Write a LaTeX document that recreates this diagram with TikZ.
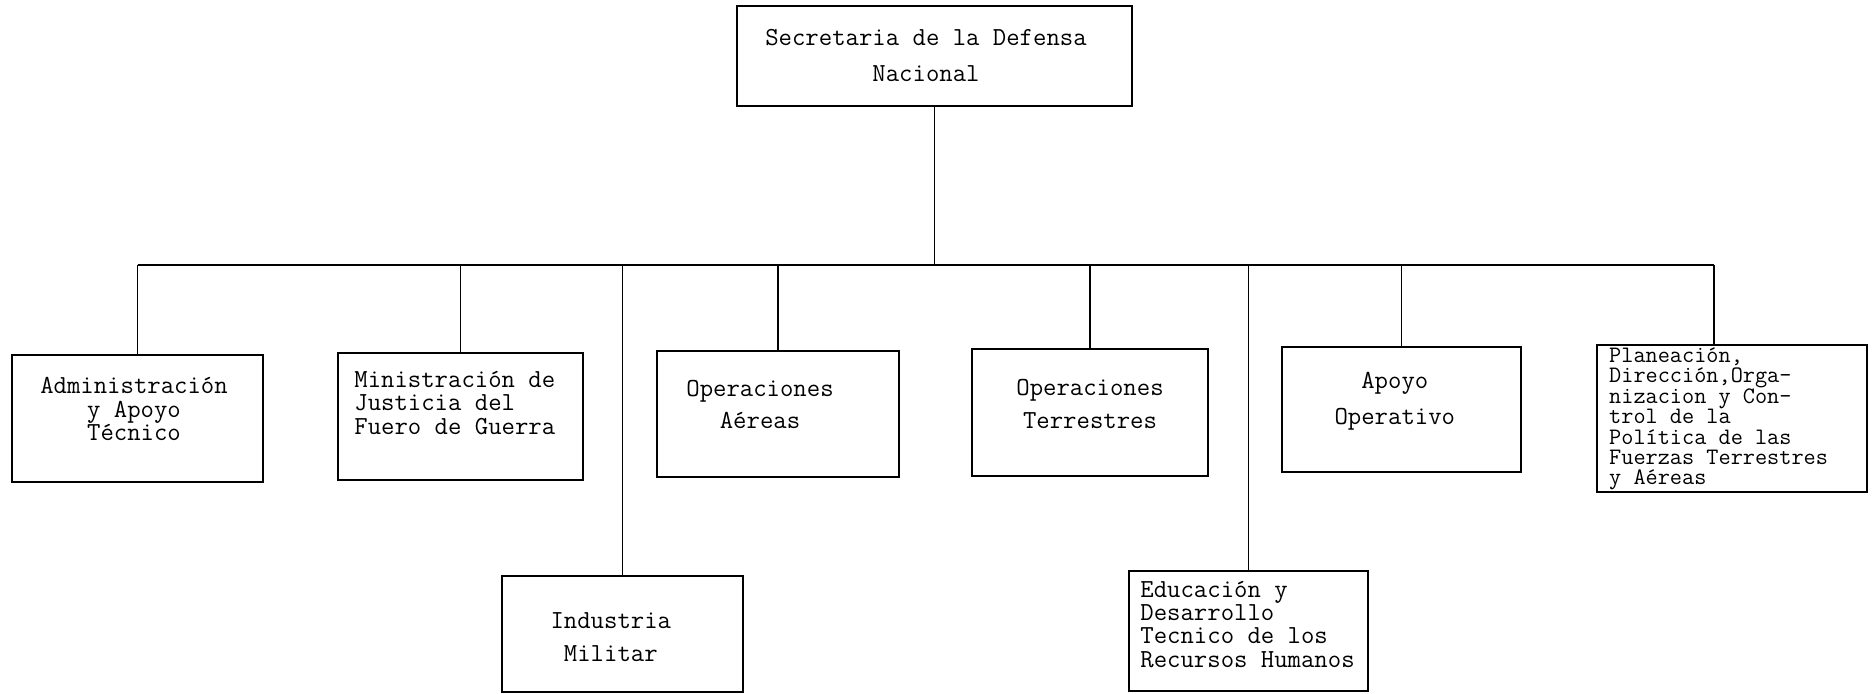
\documentclass[tikz,border=0pt]{standalone}
\usepackage{fontspec}
\usepackage{tikz}

\tikzset{
  unit/.style={draw, line width=1.2pt, inner sep=0pt},
  lbl/.style={inner sep=0pt, font=\fontsize{13}{#1}\ttfamily},
  lbl/.default=11,
  link/.style={line width=0.7pt}
}

\begin{document}
\begin{tikzpicture}[x=1pt, y=1pt]
  \useasboundingbox (0,0) rectangle (937,-347);
  % boxes
  \node[unit, minimum width=197.5, minimum height=50] (sdn) at (467.25,-28) {};
  \node[unit, minimum width=125.5, minimum height=63.5] (adm) at (68.75,-209.25) {};
  \node[unit, minimum width=122.5, minimum height=63.5] (min) at (230.25,-208.25) {};
  \node[unit, minimum width=120.5, minimum height=58] (ind) at (311.25,-317) {};
  \node[unit, minimum width=121, minimum height=63] (oae) at (389,-207) {};
  \node[unit, minimum width=118, minimum height=63.5] (ote) at (545,-206.25) {};
  \node[unit, minimum width=119.5, minimum height=60] (edu) at (624.25,-315.5) {};
  \node[unit, minimum width=119.5, minimum height=62.5] (apo) at (700.75,-204.75) {};
  \node[unit, minimum width=135, minimum height=73.5] (pla) at (866,-209.25) {};

  % texts
  \node[lbl=18, align=center] (sdn-t) at (463,-27.5) {Secretaria de la Defensa\\Nacional};
  \node[lbl=11.6, align=center] (adm-t) at (67,-204.5) {Administración\\y Apoyo\\Técnico};
  \node[lbl=11.8, align=left, anchor=west] (min-t) at (177,-201.4) {Ministración de\\Justicia del\\Fuero de Guerra};
  \node[lbl=16.7, align=center] (ind-t) at (305.4,-318.5) {Industria\\Militar};
  \node[lbl=16, align=center] (oae-t) at (380,-202.3) {Operaciones\\Aéreas};
  \node[lbl=16.7, align=center] (ote-t) at (545,-202) {Operaciones\\Terrestres};
  \node[lbl=11.6, align=left, anchor=west] (edu-t) at (570,-312.2) {Educación y\\Desarrollo\\Tecnico de los\\Recursos Humanos};
  \node[lbl=18, align=center] (apo-t) at (697.4,-200.8) {Apoyo\\Operativo};
  \node[lbl, font=\fontsize{11.8}{10.2}\ttfamily, align=left, anchor=west] (pla-t) at (804.4,-209.5) {Planeación,\\Dirección,Orga-\\nizacion y Con-\\trol de la\\Política de las\\Fuerzas Terrestres\\y Aéreas};

  % connectors
  \coordinate (bus) at (467.5,-132.5);
  \coordinate (pla-in) at ([xshift=-9]pla.north);
  \draw[link] (sdn.south) -- (sdn.south |- bus);
  \draw[link] (adm.north |- bus) -- (pla-in |- bus);
  \foreach \u in {adm,min,ind,oae,ote,edu,apo}
    \draw[link] (\u.north |- bus) -- (\u.north);
  \draw[link] (pla-in |- bus) -- (pla-in);
\end{tikzpicture}
\end{document}
